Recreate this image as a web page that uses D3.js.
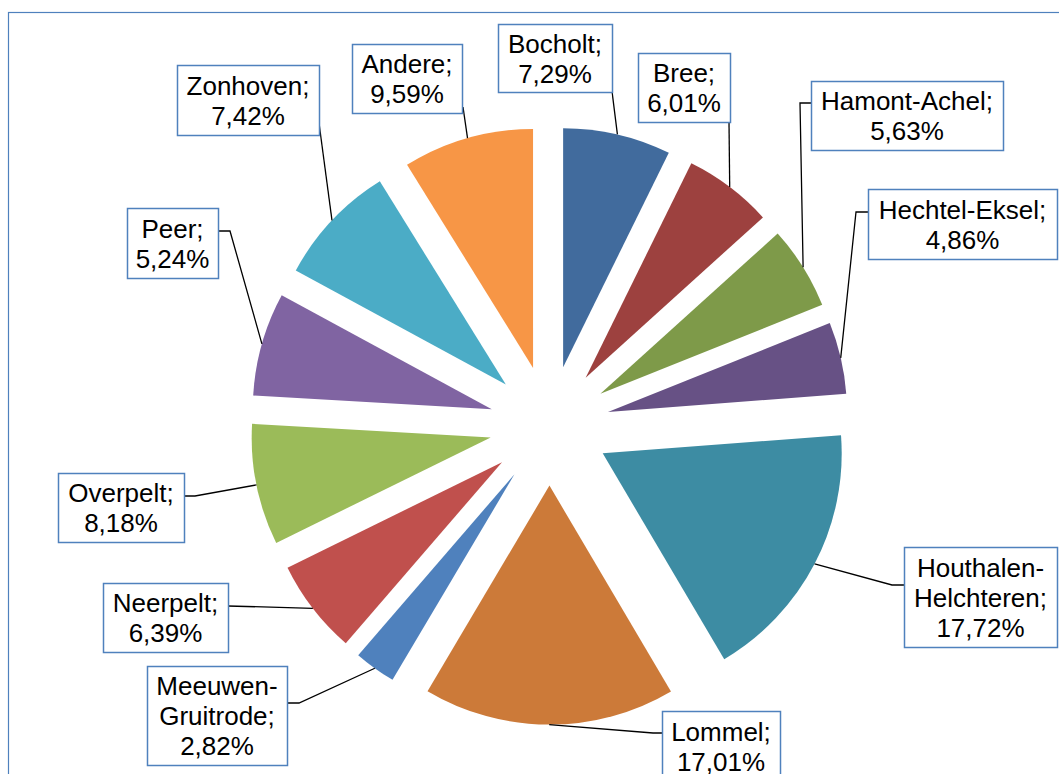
<!DOCTYPE html>
<html>
<head>
<meta charset="utf-8">
<script src="https://cdn.jsdelivr.net/npm/d3@7"></script>
<style>
  body { margin: 0; background: #fff; }
  svg { display: block; font-family: "Liberation Sans", Arial, sans-serif; }
</style>
</head>
<body>
<svg id="chart" width="1059" height="774"></svg>
<script>
// data
const towns = ["Bocholt", "Bree", "Hamont-Achel", "Hechtel-Eksel", "Houthalen-Helchteren",
  "Lommel", "Meeuwen-Gruitrode", "Neerpelt", "Overpelt", "Peer", "Zonhoven", "Andere"];
// slice sizes as drawn in the picture (%)
const shares = [7.29, 6.01, 5.63, 4.86, 17.72, 17.01, 2.82, 6.39, 8.18, 7.0, 8.25, 8.84];
// percentages printed in the labels
const labelPct = [7.29, 6.01, 5.63, 4.86, 17.72, 17.01, 2.82, 6.39, 8.18, 5.24, 7.42, 9.59];
const colors = ["#416b9d", "#9d413f", "#7e9a49", "#675185", "#3d8ca3", "#cc7a39",
  "#4f81bd", "#c0504d", "#9bbb59", "#8064a2", "#4bacc6", "#f79646"];

// label boxes (x, y, w, h), leader bends and attach point on the box
const layout = [
  { box: [498, 24, 114, 68], bends: [], attach: [612, 91] },
  { box: [638, 53, 92, 69], bends: [], attach: [729, 122] },
  { box: [811, 81, 192, 69], bends: [[800, 103]], attach: [811, 103] },
  { box: [868, 189, 189, 70], bends: [[856, 212]], attach: [868, 212] },
  { box: [904, 547, 153, 100], bends: [[892, 585]], attach: [904, 585], wrap: true },
  { box: [662, 711, 118, 70], bends: [[653, 733]], attach: [662, 733] },
  { box: [147, 666, 140, 99], bends: [[299, 703]], attach: [287, 703], wrap: true },
  { box: [103, 583, 125, 69], bends: [], attach: [228, 606] },
  { box: [58, 473, 126, 69], bends: [[195, 496]], attach: [184, 496] },
  { box: [127, 208, 91, 70], bends: [[230, 231]], attach: [218, 231] },
  { box: [177, 65, 142, 70], bends: [], attach: [319, 123] },
  { box: [352, 44, 110, 69], bends: [], attach: [463, 107] }
];

const svg = d3.select("#chart");
const cx = 549.5, cy = 425.6;
const radius = 239;
const explode = 60;

// outer frame
svg.append("rect")
  .attr("x", 8.5).attr("y", 12.5)
  .attr("width", 1100).attr("height", 800)
  .attr("fill", "none")
  .attr("stroke", "#4f81bd")
  .attr("stroke-width", 1.2);

const pie = d3.pie().sort(null).value((d) => d);
const arcs = pie(shares);
const arc = d3.arc().innerRadius(0).outerRadius(radius);

const dir = (a) => [Math.sin(a), -Math.cos(a)];
const mid = (d) => (d.startAngle + d.endAngle) / 2;

const g = svg.append("g").attr("transform", `translate(${cx},${cy})`);

g.selectAll("path")
  .data(arcs)
  .enter()
  .append("path")
  .attr("d", arc)
  .attr("fill", (d, i) => colors[i])
  .attr("transform", (d) => {
    const [dx, dy] = dir(mid(d));
    return `translate(${dx * explode},${dy * explode})`;
  });

// leader lines
const line = d3.line();
svg.append("g")
  .selectAll("path")
  .data(arcs)
  .enter()
  .append("path")
  .attr("d", (d, i) => {
    const [dx, dy] = dir(mid(d));
    const p0 = [cx + dx * (explode + radius), cy + dy * (explode + radius)];
    return line([p0, ...layout[i].bends, layout[i].attach]);
  })
  .attr("fill", "none")
  .attr("stroke", "#000")
  .attr("stroke-width", 1.3);

// label boxes
const fmt = (v) => v.toFixed(2).replace(".", ",") + "%";
const lh = 30;

const labels = svg.append("g")
  .selectAll("g")
  .data(towns)
  .enter()
  .append("g");

labels.append("rect")
  .attr("x", (d, i) => layout[i].box[0] + 0.5)
  .attr("y", (d, i) => layout[i].box[1] + 0.5)
  .attr("width", (d, i) => layout[i].box[2])
  .attr("height", (d, i) => layout[i].box[3])
  .attr("fill", "#fff")
  .attr("stroke", "#4f81bd")
  .attr("stroke-width", 1.5);

labels.each(function (d, i) {
  const L = layout[i];
  let lines;
  if (L.wrap) {
    const k = d.indexOf("-");
    lines = [d.slice(0, k + 1), d.slice(k + 1) + ";"];
  } else {
    lines = [d + ";"];
  }
  lines.push(fmt(labelPct[i]));
  const [x, y, w, h] = L.box;
  const top = y + (h - lines.length * lh) / 2;
  d3.select(this)
    .selectAll("text")
    .data(lines)
    .enter()
    .append("text")
    .attr("x", x + w / 2)
    .attr("y", (t, j) => top + lh * j + 24.5)
    .attr("text-anchor", "middle")
    .attr("font-size", 26)
    .attr("fill", "#000")
    .text((t) => t);
});
</script>
</body>
</html>
